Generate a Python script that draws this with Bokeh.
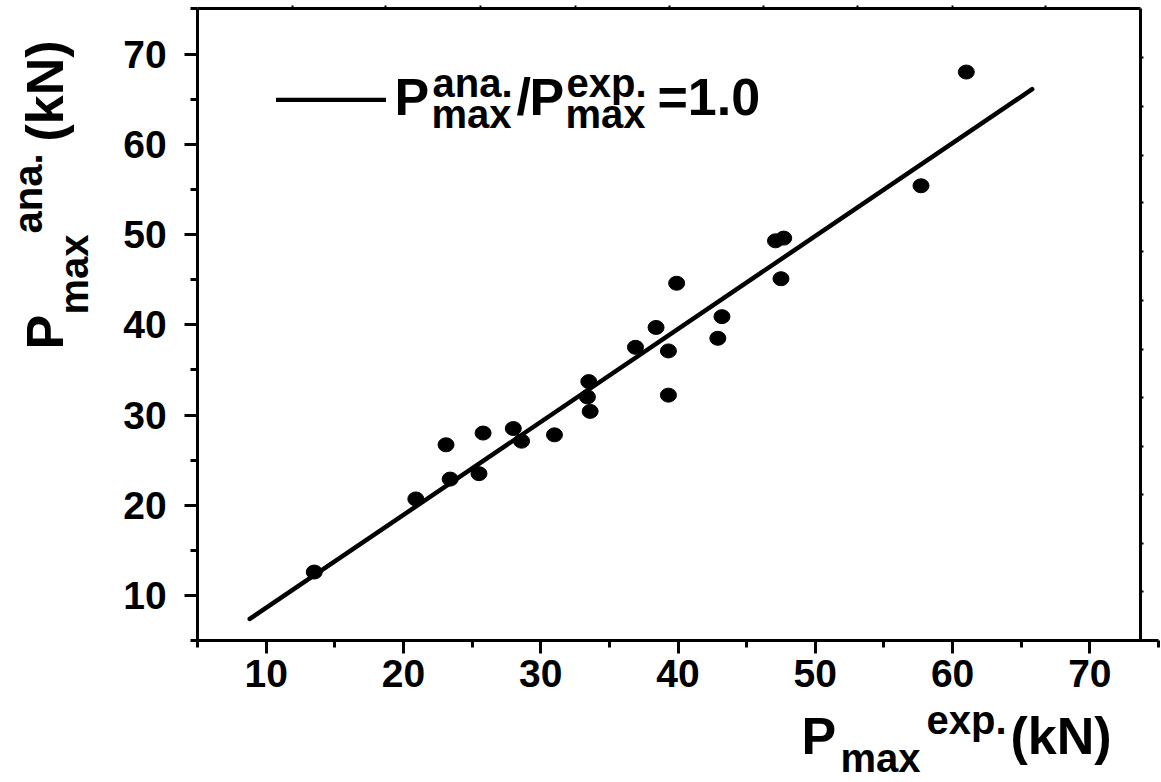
from bokeh.plotting import figure
from bokeh.models import (Range1d, LinearAxis, FixedTicker, Label,
                          Legend, LegendItem, CustomJSTickFormatter)
from bokeh.embed import file_html
from bokeh.resources import INLINE

# ---- data ----
p_exp = [13.5, 20.9, 23.1, 23.4, 25.5, 25.8, 28.0, 28.6, 31.0, 33.5, 33.4, 33.6,
         36.9, 38.4, 39.3, 39.3, 39.9, 42.9, 43.2, 47.1, 47.7, 47.5, 57.7, 61.0]
p_ana = [12.6, 20.7, 26.7, 22.9, 23.5, 28.0, 28.5, 27.1, 27.8, 33.7, 32.0, 30.4,
         37.5, 39.7, 37.1, 32.2, 44.6, 38.5, 40.9, 49.3, 49.6, 45.1, 55.4, 68.0]
fit_x = [8.8, 65.8]
fit_y = [7.4, 66.1]

x_ticks = [10, 20, 30, 40, 50, 60, 70]
x_minor = [5, 15, 25, 35, 45, 55, 65, 75]
y_ticks = [10, 20, 30, 40, 50, 60, 70]
y_minor = [5, 15, 25, 35, 45, 55, 65, 75]
top_ticks = [11.9, 18.7, 25.6, 32.5, 39.4, 46.2, 53.1, 60.0, 66.8]
right_ticks = [69.6, 64.2, 58.8, 53.5, 48.1, 42.7, 37.3, 31.9, 26.5, 21.2, 15.8, 10.4]
AX_MIN, AX_MAX = 5, 75          # axis extents (both axes)
RIGHT_EDGE = 73.7               # right frame line
# visible window of the canvas in data units (canvas = plotting frame)
X0, X1 = -9.356, 75.22
Y0, Y1 = -10.72, 75.928

FONT = "Liberation Sans"
W, H = 1161, 782

p = figure(width=W, height=H, x_range=Range1d(X0, X1), y_range=Range1d(Y0, Y1),
           output_backend="svg", toolbar_location=None,
           min_border_left=0, min_border_right=0, min_border_bottom=0, min_border_top=0)
p.title.visible = False
p.xgrid.visible = False
p.ygrid.visible = False
p.outline_line_color = None
p.background_fill_color = "white"
p.border_fill_color = "white"


def style_main(ax, tk, mn):
    ax.ticker = FixedTicker(ticks=tk, minor_ticks=mn)
    ax.bounds = (AX_MIN, AX_MAX)
    ax.fixed_location = AX_MIN
    ax.axis_line_width = 3
    ax.axis_line_color = "black"
    ax.major_tick_line_width = 3
    ax.minor_tick_line_width = 3
    ax.major_tick_out = 13
    ax.major_tick_in = 0
    ax.minor_tick_out = 7
    ax.minor_tick_in = 0
    ax.major_label_text_font = FONT
    ax.major_label_text_font_style = "bold"
    ax.major_label_text_font_size = "39px"
    ax.major_label_text_color = "black"


style_main(p.xaxis[0], x_ticks, x_minor)
style_main(p.yaxis[0], y_ticks, y_minor)
p.xaxis[0].major_label_standoff = 6
p.yaxis[0].major_label_standoff = 18

blank = CustomJSTickFormatter(code="return ''")
top = LinearAxis(ticker=FixedTicker(ticks=top_ticks, minor_ticks=[]), bounds=(AX_MIN, RIGHT_EDGE),
                 fixed_location=AX_MAX, formatter=blank,
                 axis_line_width=3, major_tick_out=3, major_tick_in=0, major_tick_line_width=2,
                 minor_tick_out=0, minor_tick_in=0, major_label_text_font_size="1px",
                 major_label_standoff=0)
p.add_layout(top, "above")
right = LinearAxis(ticker=FixedTicker(ticks=right_ticks, minor_ticks=[]), bounds=(AX_MIN, AX_MAX),
                   fixed_location=RIGHT_EDGE, formatter=blank,
                   axis_line_width=3, major_tick_out=3, major_tick_in=0, major_tick_line_width=2,
                   minor_tick_out=0, minor_tick_in=0, major_label_text_font_size="1px",
                   major_label_standoff=0)
p.add_layout(right, "right")

fit = p.line(fit_x, fit_y, line_width=4.5, line_color="black", line_cap="round")
p.ellipse(x=p_exp, y=p_ana, width=16, height=14, width_units="screen", height_units="screen",
          fill_color="black", line_color="black")

# legend key line (real legend); the formula is drawn as labels
leg = Legend(items=[LegendItem(label=" ", renderers=[fit])], location=(276, 680),
             glyph_width=110, glyph_height=5, padding=0, margin=0, spacing=0,
             label_standoff=0, label_width=0, label_height=5, label_text_font_size="1px",
             border_line_color=None, background_fill_alpha=0)
p.add_layout(leg)

SX = W / (X1 - X0)
SY = H / (Y1 - Y0)


def px(xp):
    return X0 + xp / SX


def py(yp):
    return Y1 - yp / SY


BIG, SMALL = 52, 40
SHIFT = {52: 21, 40: 14.5}   # renderer's baseline offset, measured


def lab(text, xp, base, size, rotated=False):
    if rotated:
        x, y, ang = px(base - SHIFT[size]), py(xp), 90
    else:
        x, y, ang = px(xp), py(base - SHIFT[size]), 0
    p.add_layout(Label(x=x, y=y, text=text, text_font=FONT, text_font_style="bold",
                       text_font_size=f"{size}px", text_color="black",
                       text_baseline="alphabetic", text_align="left",
                       angle=ang, angle_units="deg"))


# legend formula (x start, baseline)
lab("P", 394, 117, BIG)
lab("ana.", 432, 97, SMALL)
lab("max", 431, 128, SMALL)
lab("/", 516, 117, BIG)
lab("P", 529, 117, BIG)
lab("exp.", 566, 97, SMALL)
lab("max", 565, 128, SMALL)
lab("=1.0", 657, 117, BIG)

# x axis title
lab("P", 801, 756, BIG)
lab("max", 840, 772, SMALL)
lab("exp.", 926, 734, SMALL)
lab("(kN)", 1010, 756, BIG)

# y axis title (rotated; first value = start along the page's y, second = baseline x)
lab("P", 349, 65, BIG, True)
lab("max", 314, 88, SMALL, True)
lab("ana.", 233, 42, SMALL, True)
lab("(kN)", 141, 65, BIG, True)

open("out.html", "w").write(file_html(p, INLINE))
